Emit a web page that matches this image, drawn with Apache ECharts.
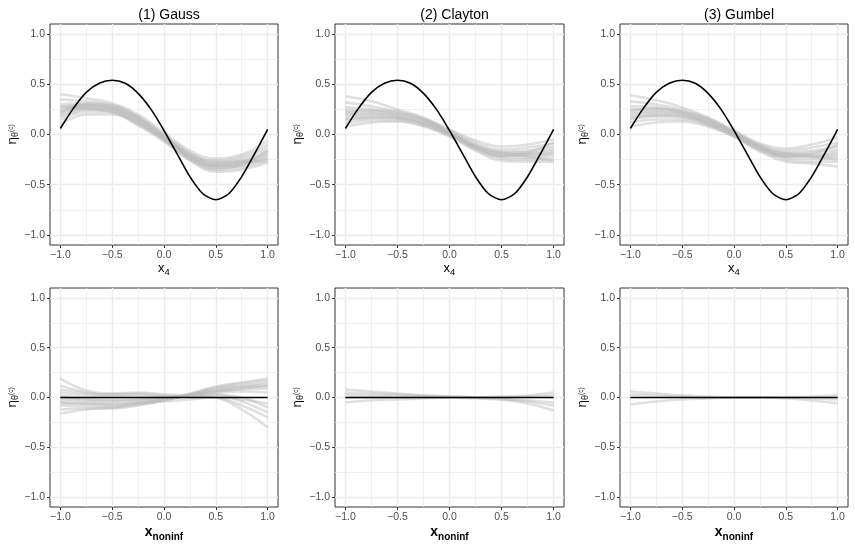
<!DOCTYPE html>
<html>
    <head>
        <meta charset="utf-8">
        <script src="https://cdn.jsdelivr.net/npm/echarts@6/dist/echarts.min.js"></script>
        <style>
            html, body { margin: 0; padding: 0; background: #fff; }
            #main { width: 855px; height: 547px; }
        </style>
    </head>
    <body>
        <div id="main"></div>

        <script>
            // x positions of the estimated curves
            var xs = [-1, -0.75, -0.5, -0.25, 0, 0.25, 0.5, 0.75, 1];
            // x positions of the true effect
            var xsTruth = [-1, -0.875, -0.75, -0.625, -0.5, -0.375, -0.25, -0.125, 0,
                           0.125, 0.25, 0.375, 0.5, 0.625, 0.75, 0.875, 1];

            var truthTop = [0.06, 0.26, 0.42, 0.51, 0.54, 0.51, 0.41, 0.25, 0.04,
                            -0.19, -0.42, -0.59, -0.65, -0.59, -0.42, -0.19, 0.05];
            var truthBottom = [0, 0, 0, 0, 0, 0, 0, 0, 0, 0, 0, 0, 0, 0, 0, 0, 0];

            var gaussTop = [
                [0.40, 0.36, 0.31, 0.20, 0.02, -0.16, -0.24, -0.20, -0.06],
                [0.35, 0.33, 0.29, 0.18, 0.00, -0.18, -0.26, -0.22, -0.10],
                [0.30, 0.31, 0.28, 0.17, -0.01, -0.19, -0.28, -0.24, -0.13],
                [0.27, 0.30, 0.27, 0.16, -0.02, -0.20, -0.29, -0.26, -0.16],
                [0.25, 0.29, 0.26, 0.15, -0.03, -0.21, -0.30, -0.27, -0.18],
                [0.23, 0.28, 0.26, 0.14, -0.03, -0.22, -0.31, -0.28, -0.20],
                [0.21, 0.27, 0.25, 0.13, -0.04, -0.22, -0.31, -0.29, -0.21],
                [0.19, 0.26, 0.24, 0.12, -0.05, -0.23, -0.32, -0.30, -0.23],
                [0.17, 0.25, 0.23, 0.11, -0.05, -0.24, -0.33, -0.31, -0.24],
                [0.14, 0.23, 0.22, 0.10, -0.06, -0.25, -0.35, -0.33, -0.26],
                [0.10, 0.20, 0.20, 0.09, -0.07, -0.26, -0.37, -0.35, -0.28],
                [0.28, 0.26, 0.22, 0.12, -0.03, -0.20, -0.27, -0.27, -0.26],
                [0.22, 0.30, 0.29, 0.17, -0.02, -0.24, -0.34, -0.30, -0.16]
            ];
            var claytonTop = [
                [0.38, 0.33, 0.25, 0.17, 0.05, -0.06, -0.12, -0.10, -0.05],
                [0.32, 0.28, 0.23, 0.16, 0.04, -0.08, -0.15, -0.13, -0.09],
                [0.27, 0.25, 0.21, 0.15, 0.03, -0.10, -0.17, -0.16, -0.12],
                [0.24, 0.23, 0.20, 0.14, 0.02, -0.11, -0.18, -0.18, -0.14],
                [0.21, 0.21, 0.19, 0.13, 0.02, -0.12, -0.19, -0.19, -0.16],
                [0.19, 0.20, 0.18, 0.12, 0.01, -0.12, -0.20, -0.20, -0.18],
                [0.17, 0.18, 0.17, 0.11, 0.00, -0.13, -0.21, -0.21, -0.19],
                [0.14, 0.16, 0.16, 0.10, 0.00, -0.14, -0.22, -0.23, -0.21],
                [0.11, 0.14, 0.14, 0.09, -0.01, -0.15, -0.24, -0.25, -0.24],
                [0.08, 0.12, 0.13, 0.08, -0.02, -0.16, -0.26, -0.27, -0.27],
                [0.22, 0.24, 0.22, 0.15, 0.02, -0.13, -0.22, -0.18, -0.08],
                [0.15, 0.17, 0.16, 0.11, 0.01, -0.12, -0.18, -0.22, -0.26]
            ];
            var gumbelTop = [
                [0.39, 0.34, 0.27, 0.17, 0.04, -0.09, -0.14, -0.10, -0.03],
                [0.33, 0.30, 0.25, 0.16, 0.03, -0.10, -0.16, -0.13, -0.08],
                [0.28, 0.27, 0.23, 0.15, 0.02, -0.11, -0.18, -0.16, -0.12],
                [0.25, 0.25, 0.22, 0.14, 0.02, -0.12, -0.19, -0.18, -0.15],
                [0.22, 0.23, 0.21, 0.13, 0.01, -0.13, -0.20, -0.20, -0.17],
                [0.20, 0.22, 0.20, 0.12, 0.00, -0.14, -0.21, -0.21, -0.19],
                [0.18, 0.20, 0.19, 0.11, 0.00, -0.14, -0.22, -0.22, -0.21],
                [0.15, 0.18, 0.17, 0.10, -0.01, -0.15, -0.23, -0.24, -0.23],
                [0.12, 0.15, 0.15, 0.09, -0.02, -0.16, -0.25, -0.27, -0.27],
                [0.08, 0.12, 0.13, 0.08, -0.02, -0.17, -0.27, -0.29, -0.32],
                [0.24, 0.26, 0.23, 0.15, 0.02, -0.12, -0.22, -0.19, -0.10],
                [0.16, 0.19, 0.18, 0.11, 0.00, -0.13, -0.19, -0.22, -0.25]
            ];
            var gaussBottom = [
                [0.19, 0.07, 0.04, 0.05, 0.03, 0.02, 0.00, -0.12, -0.30],
                [0.12, 0.05, 0.03, 0.04, 0.02, 0.01, 0.00, -0.08, -0.20],
                [0.08, 0.04, 0.03, 0.03, 0.01, 0.02, 0.03, 0.00, -0.10],
                [0.05, 0.02, 0.01, 0.01, 0.00, 0.02, 0.05, 0.06, 0.05],
                [0.02, -0.01, -0.02, -0.02, -0.01, 0.02, 0.06, 0.08, 0.09],
                [-0.01, -0.03, -0.04, -0.03, -0.01, 0.03, 0.07, 0.10, 0.11],
                [-0.03, -0.05, -0.06, -0.05, -0.02, 0.03, 0.08, 0.11, 0.13],
                [-0.05, -0.07, -0.08, -0.06, -0.02, 0.03, 0.09, 0.12, 0.15],
                [-0.08, -0.09, -0.10, -0.07, -0.03, 0.03, 0.10, 0.14, 0.17],
                [-0.12, -0.11, -0.11, -0.08, -0.03, 0.04, 0.11, 0.15, 0.19],
                [-0.16, -0.12, -0.10, -0.06, -0.04, -0.02, 0.00, -0.02, -0.06],
                [0.00, -0.02, -0.03, -0.02, 0.00, 0.01, 0.03, -0.04, -0.15],
                [-0.06, -0.06, -0.07, -0.05, -0.02, 0.02, 0.06, 0.09, 0.12]
            ];
            var claytonBottom = [
                [0.08, 0.06, 0.04, 0.02, 0.01, 0.00, -0.01, -0.04, -0.08],
                [0.05, 0.04, 0.03, 0.02, 0.01, 0.00, -0.02, -0.06, -0.13],
                [-0.05, -0.03, -0.02, -0.01, 0.00, 0.00, 0.00, 0.01, 0.02],
                [0.03, 0.02, 0.02, 0.01, 0.00, -0.01, -0.02, -0.03, -0.05],
                [0.00, 0.00, 0.00, 0.00, 0.00, 0.00, 0.01, 0.02, 0.05]
            ];
            var gumbelBottom = [
                [0.06, 0.04, 0.02, 0.01, 0.00, 0.00, 0.00, -0.01, -0.02],
                [-0.07, -0.04, -0.02, -0.01, 0.00, 0.00, -0.01, -0.03, -0.06],
                [0.03, 0.02, 0.01, 0.00, 0.00, 0.00, 0.00, 0.01, 0.02]
            ];

            var panelTitles = ['(1) Gauss', '(2) Clayton', '(3) Gumbel'];
            var tickValues = [-1, -0.5, 0, 0.5, 1];
            var majorGrid = [-1, -0.5, 0, 0.5, 1];
            var minorGrid = [-0.75, -0.25, 0.25, 0.75];

            var panels = [
                { curves: gaussTop, truth: truthTop, left: 50, top: 24, width: 228, height: 221 },
                { curves: claytonTop, truth: truthTop, left: 335, top: 24, width: 229, height: 221 },
                { curves: gumbelTop, truth: truthTop, left: 620, top: 24, width: 228, height: 221 },
                { curves: gaussBottom, truth: truthBottom, left: 50, top: 288, width: 228, height: 219 },
                { curves: claytonBottom, truth: truthBottom, left: 335, top: 288, width: 229, height: 219 },
                { curves: gumbelBottom, truth: truthBottom, left: 620, top: 288, width: 228, height: 219 }
            ];

            var font = 'Liberation Sans, Arial, sans-serif';

            function fmt(v) {
                var s = Math.abs(v).toFixed(1);
                return v < 0 ? '\u2212' + s : s;
            }

            var chart = echarts.init(document.getElementById('main'), null, { renderer: 'canvas' });

            var grids = [], xAxes = [], yAxes = [], series = [], titles = [];

            panels.forEach(function (p, i) {
                var bottomRow = i >= 3;
                grids.push({
                    left: p.left, top: p.top, width: p.width, height: p.height,
                    show: true, borderColor: '#333333', borderWidth: 1,
                    backgroundColor: '#ffffff',
                    containLabel: false, outerBoundsMode: 'none'
                });
                xAxes.push({
                    type: 'value', gridIndex: i, min: -1.1, max: 1.1,
                    axisLine: { show: false, onZero: false },
                    axisTick: { show: true, length: 3, lineStyle: { color: '#333333', width: 1 }, customValues: tickValues },
                    axisLabel: { customValues: tickValues, formatter: fmt, color: '#4d4d4d', fontSize: 10.5, fontFamily: font, margin: 5 },
                    splitLine: { show: false },
                    name: bottomRow ? '{b|x}{s|noninf}' : '{n|x}{t|4}',
                    nameLocation: 'middle',
                    nameGap: bottomRow ? 16 : 11,
                    nameTextStyle: {
                        rich: {
                            b: { fontSize: 14, fontWeight: 'bold', color: '#000', fontFamily: font },
                            s: { fontSize: 10, fontWeight: 'bold', color: '#000', fontFamily: font, padding: [9, 0, 0, 0] },
                            n: { fontSize: 13, color: '#000', fontFamily: font },
                            t: { fontSize: 9.5, color: '#000', fontFamily: font, padding: [8, 0, 0, 0] }
                        }
                    }
                });
                yAxes.push({
                    type: 'value', gridIndex: i, min: -1.1, max: 1.1,
                    axisLine: { show: false, onZero: false },
                    axisTick: { show: true, length: 3, lineStyle: { color: '#333333', width: 1 }, customValues: tickValues },
                    axisLabel: { customValues: tickValues, formatter: fmt, color: '#4d4d4d', fontSize: 10.5, fontFamily: font, margin: 5 },
                    splitLine: { show: false },
                    name: '{e|\u03b7}{t|\u03b8}{c|(c)}',
                    nameLocation: 'middle',
                    nameRotate: 90,
                    nameGap: 29,
                    nameTextStyle: {
                        rich: {
                            e: { fontSize: 13.5, color: '#000', fontFamily: font },
                            t: { fontSize: 9, color: '#000', fontFamily: font, padding: [8, 0, 0, 0] },
                            c: { fontSize: 6.5, color: '#000', fontFamily: font, padding: [0, 0, 1, 0] }
                        }
                    }
                });

                // panel grid lines
                var gl = [];
                majorGrid.forEach(function (v) {
                    gl.push({ xAxis: v, lineStyle: { width: 1.4, color: '#ebebeb' } });
                    gl.push({ yAxis: v, lineStyle: { width: 1.4, color: '#ebebeb' } });
                });
                minorGrid.forEach(function (v) {
                    gl.push({ xAxis: v, lineStyle: { width: 0.7, color: '#ebebeb' } });
                    gl.push({ yAxis: v, lineStyle: { width: 0.7, color: '#ebebeb' } });
                });
                series.push({
                    type: 'line', xAxisIndex: i, yAxisIndex: i, data: [], z: 1,
                    silent: true, animation: false,
                    markLine: {
                        silent: true, symbol: 'none', animation: false, z: 1,
                        label: { show: false },
                        lineStyle: { type: 'solid' },
                        data: gl
                    }
                });

                p.curves.forEach(function (c) {
                    series.push({
                        type: 'line', xAxisIndex: i, yAxisIndex: i, z: 3,
                        data: xs.map(function (x, k) { return [x, c[k]]; }),
                        smooth: 0.4, showSymbol: false, symbol: 'none',
                        silent: true, animation: false,
                        lineStyle: { color: '#bababa', width: 2.6, opacity: 0.45 }
                    });
                });

                series.push({
                    type: 'line', xAxisIndex: i, yAxisIndex: i, z: 5,
                    data: xsTruth.map(function (x, k) { return [x, p.truth[k]]; }),
                    smooth: 0.25, showSymbol: false, symbol: 'none',
                    silent: true, animation: false,
                    lineStyle: { color: '#000000', width: 1.6 }
                });

                if (i < 3) {
                    titles.push({
                        text: panelTitles[i],
                        left: p.left + p.width / 2, top: 3, textAlign: 'center',
                        textStyle: { fontSize: 14, fontWeight: 'normal', color: '#000', fontFamily: font }
                    });
                }
            });

            chart.setOption({
                backgroundColor: '#ffffff',
                animation: false,
                title: titles,
                grid: grids,
                xAxis: xAxes,
                yAxis: yAxes,
                series: series
            });
        </script>
    </body>
</html>
